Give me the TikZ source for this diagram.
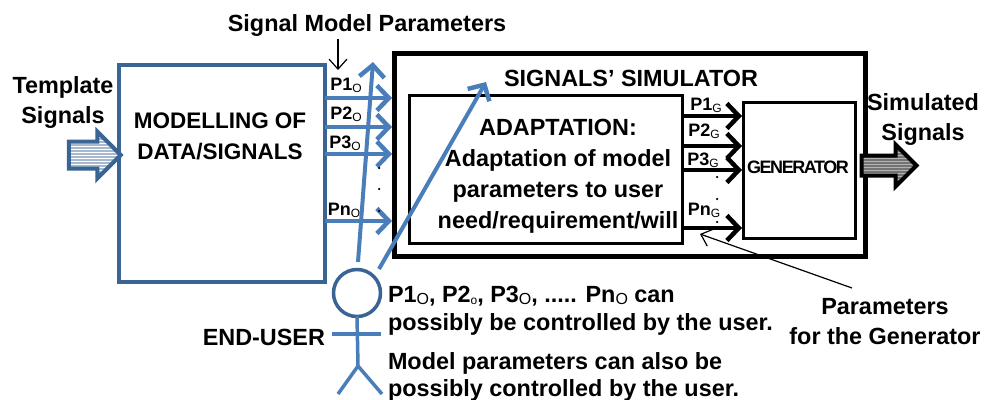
\documentclass[tikz,border=0pt]{standalone}
\usepackage{fontspec}
\setmainfont{Liberation Sans}
\newfontfamily\tightfont[LetterSpace=-8]{Liberation Sans}
\usetikzlibrary{arrows.meta,shapes.arrows,patterns}
\definecolor{boxblue}{HTML}{3A6494}
\definecolor{lineblue}{HTML}{4A7EBB}
\newcommand{\lowtxt}[2][12]{\raisebox{-2.5pt}{\mdseries\fontsize{#1}{#1}\selectfont #2}}
\tikzset{
  every node/.style={inner sep=0pt, outer sep=0pt, font=\bfseries\fontsize{23.4}{30}\selectfont, align=center},
  plabel/.style={anchor=base, font=\bfseries\fontsize{18}{18}\selectfont},
  dotmark/.style={circle, fill=black, minimum size=2.5pt},
  bluearrow/.style={draw=lineblue, line width=4pt, -{Straight Barb[length=12pt,width=25pt,line width=4.5pt]}},
  blackarrow/.style={draw=black, line width=4pt, -{Straight Barb[length=12pt,width=25pt,line width=4.5pt]}},
  thinarrow/.style={draw=black, line width=1.2pt, -{Straight Barb[length=10pt,width=18pt]}},
  figline/.style={draw=lineblue, line width=3.5pt}
}
\begin{document}
\begin{tikzpicture}[x=1pt, y=-1pt]
\useasboundingbox (0,0) rectangle (984,399);
% boxes
\node[draw=boxblue, line width=4pt, minimum width=206pt, minimum height=217pt] (model) at (221.5,173.5) {};
\node[draw=black, line width=5pt, minimum width=471pt, minimum height=203pt] (simulator) at (629.5,154.5) {};
\node[draw=black, line width=3pt, minimum width=273pt, minimum height=148pt] (adaptation) at (545.5,169) {};
\node[draw=black, line width=3pt, minimum width=112pt, minimum height=136pt] (generator) at (799,170) {};
% texts
\node (topic) at (367,26) {Signal Model Parameters};
\node (template) at (63,102) {Template\\Signals};
\node[font=\bfseries\fontsize{22.5}{31}\selectfont] (modeltxt) at (220,136) {MODELLING OF\\DATA/SIGNALS};
\node (simtxt) at (631,78) {SIGNALS’ SIMULATOR};
\node[font=\bfseries\fontsize{23.4}{31}\selectfont] (adapttxt) at (558,176) {ADAPTATION:\\Adaptation of model\\parameters to user\\need/requirement/will};
\node[font=\bfseries\tightfont\fontsize{18}{18}\selectfont] (gentxt) at (798,167) {GENERATOR};
\node (simulated) at (923,119) {Simulated\\Signals};
\node (forgen) at (885,322) {Parameters\\for the Generator};
\node[anchor=east] (enduser) at (325,337) {END-USER};
\node[anchor=base west, align=left, font=\bfseries\fontsize{23.4}{28}\selectfont] (ctrlone) at (388,330) {P1\lowtxt[16]{O}, P2\lowtxt{o}, P3\lowtxt[16]{O}, ..... Pn\lowtxt[16]{O} can\\possibly be controlled by the user.};
\node[anchor=base west, align=left, font=\bfseries\fontsize{23.4}{27}\selectfont] (ctrltwo) at (388,396) {Model parameters can also be\\possibly controlled by the user.};
% parameter labels
\node[plabel] (P1O) at (346,90) {P1\lowtxt{O}};
\node[plabel] (P2O) at (346,119) {P2\lowtxt{O}};
\node[plabel] (P3O) at (345,148) {P3\lowtxt{O}};
\node[plabel] (PnO) at (344,215) {Pn\lowtxt{O}};
\node[plabel] (P1G) at (706,110) {P1\lowtxt{G}};
\node[plabel] (P2G) at (704,136) {P2\lowtxt{G}};
\node[plabel] (P3G) at (703,165) {P3\lowtxt{G}};
\node[plabel] (PnG) at (704,215) {Pn\lowtxt{G}};
% big arrows
\node[single arrow, draw=boxblue, line width=4pt, inner ysep=11.5pt, single arrow head extend=10pt, single arrow head indent=0pt, minimum height=52pt, preaction={fill=boxblue!45}, pattern=horizontal lines, pattern color=white] (inarrow) at (88,155) {};
\node[single arrow, draw=black, line width=4pt, inner ysep=8pt, single arrow head extend=11pt, single arrow head indent=0pt, minimum height=55pt, preaction={fill=black!55}, pattern=horizontal lines, pattern color=black!30] (outarrow) at (884,165.5) {};
% ends of the connectors
\coordinate (M1) at (325,98);
\coordinate (M2) at (325,127);
\coordinate (M3) at (325,154);
\coordinate (Mn) at (325,221);
\coordinate (S1) at (392,98);
\coordinate (S2) at (392,127);
\coordinate (S3) at (392,154);
\coordinate (Sn) at (392,221);
\coordinate (A1) at (682,116);
\coordinate (A2) at (682,146);
\coordinate (A3) at (682,170);
\coordinate (An) at (682,228);
\coordinate (G1) at (742,116);
\coordinate (G2) at (742,146);
\coordinate (G3) at (742,170);
\coordinate (Gn) at (742,228);
\coordinate (topicend) at (338,70);
\coordinate (topicstart) at (338,39);
\coordinate (forgenstart) at (852,288);
\coordinate (forgenend) at (700,234);
\coordinate (userA) at (358,262);
\coordinate (userB) at (379,269);
\coordinate (modelgoal) at (373,62);
\coordinate (adaptgoal) at (486,82);
% connectors
\draw[thinarrow] (topicstart) -- (topicend);
\draw[thinarrow] (forgenstart) -- (forgenend);
\draw[bluearrow] (M1) -- (S1);
\draw[bluearrow] (M2) -- (S2);
\draw[bluearrow] (M3) -- (S3);
\draw[bluearrow] (Mn) -- (Sn);
\draw[blackarrow] (A1) -- (G1);
\draw[blackarrow] (A2) -- (G2);
\draw[blackarrow] (A3) -- (G3);
\draw[blackarrow] (An) -- (Gn);
\draw[bluearrow] (userA) -- (modelgoal);
\draw[bluearrow] (userB) -- (adaptgoal);
% dots between the labels
\node[dotmark] (dotO1) at (379,168) {};
\node[dotmark] (dotO2) at (379,189) {};
\node[dotmark] (dotO3) at (379,211) {};
\node[dotmark] (dotG1) at (717,177) {};
\node[dotmark] (dotG2) at (717,199) {};
\node[dotmark] (dotG3) at (717,222) {};
% the user
\node[circle, draw=boxblue, line width=3.5pt, minimum size=47pt] (head) at (357,293) {};
\coordinate (hip) at (358,366);
\coordinate (armL) at (332,334);
\coordinate (armR) at (381,334);
\coordinate (legL) at (338,394);
\coordinate (legR) at (382,394);
\draw[figline] (head.south) -- (hip);
\draw[figline] (armL) -- (armR);
\draw[figline] (hip) -- (legL);
\draw[figline] (hip) -- (legR);
\end{tikzpicture}
\end{document}
